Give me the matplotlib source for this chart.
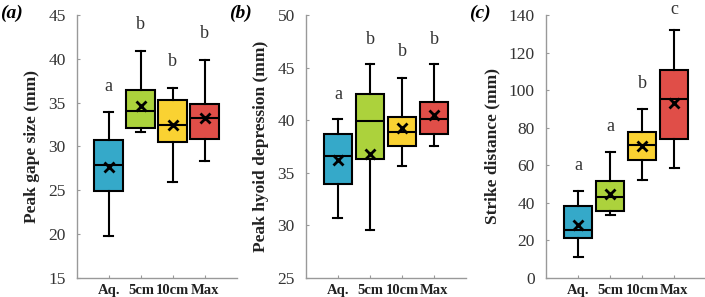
import matplotlib
matplotlib.use("Agg")
import matplotlib.pyplot as plt

plt.rcParams['font.family'] = ['Liberation Serif', 'DejaVu Serif']

# groups and colours
groups = ['Aq.', '5cm', '10cm', 'Max']
colors = ['#35a9c9', '#acd23c', '#fad232', '#e04e48']

# (a) peak gape size (mm)
gape_lo = [19.8, 31.6, 25.9, 28.4]
gape_q1 = [24.9, 32.1, 30.5, 30.8]
gape_med = [27.9, 34.0, 32.5, 33.2]
gape_q3 = [30.7, 36.4, 35.3, 34.9]
gape_hi = [33.9, 40.9, 36.7, 39.9]
gape_mean = [27.7, 34.6, 32.5, 33.3]
gape_letters = ['a', 'b', 'b', 'b']
gape_letter_y = [36.8, 43.9, 39.7, 42.9]

# (b) peak hyoid depression (mm)
hyoid_lo = [30.7, 29.6, 35.6, 37.5]
hyoid_q1 = [33.95, 36.3, 37.5, 38.7]
hyoid_med = [36.55, 39.9, 38.9, 40.1]
hyoid_q3 = [38.7, 42.45, 40.35, 41.7]
hyoid_hi = [40.1, 45.3, 44.0, 45.3]
hyoid_mean = [36.2, 36.8, 39.3, 40.5]
hyoid_letters = ['a', 'b', 'b', 'b']
hyoid_letter_y = [42.45, 47.7, 46.5, 47.7]

# (c) strike distance (mm)
strike_lo = [11.2, 33.7, 51.9, 58.5]
strike_q1 = [21.4, 35.5, 62.6, 74.2]
strike_med = [25.5, 43.3, 70.8, 95.4]
strike_q3 = [38.2, 51.7, 77.6, 110.6]
strike_hi = [46.4, 67.2, 89.7, 132.0]
strike_mean = [28.2, 44.9, 70.4, 93.3]
strike_letters = ['a', 'a', 'b', 'c']
strike_letter_y = [60.1, 80.8, 103.4, 143.0]

panels = [
    ('(a)', 'Peak gape size (mm)', (15, 45), range(15, 46, 5),
     gape_lo, gape_q1, gape_med, gape_q3, gape_hi, gape_mean, gape_letters, gape_letter_y),
    ('(b)', 'Peak hyoid depression (mm)', (25, 50), range(25, 51, 5),
     hyoid_lo, hyoid_q1, hyoid_med, hyoid_q3, hyoid_hi, hyoid_mean, hyoid_letters, hyoid_letter_y),
    ('(c)', 'Strike distance (mm)', (0, 140), range(0, 141, 20),
     strike_lo, strike_q1, strike_med, strike_q3, strike_hi, strike_mean, strike_letters, strike_letter_y),
]

fig = plt.figure(figsize=(7.05, 2.97), dpi=100)
lefts = [0.109, 0.434, 0.7745]

for left, (tag, ylabel, ylim, yticks, lo, q1, med, q3, hi, mean, letters, letter_y) in zip(lefts, panels):
    ax = fig.add_axes([left, 0.064, 0.227, 0.8855])
    stats = []
    for i in range(len(groups)):
        stats.append(dict(whislo=lo[i], q1=q1[i], med=med[i], q3=q3[i], whishi=hi[i],
                          mean=mean[i], fliers=[], label=groups[i]))
    pos = list(range(1, len(groups) + 1))
    bp = ax.bxp(stats, positions=pos, widths=0.9, patch_artist=True, showmeans=True,
                boxprops=dict(edgecolor='black', linewidth=1.5),
                medianprops=dict(color='black', linewidth=1.5),
                whiskerprops=dict(color='black', linewidth=1.5),
                capprops=dict(color='black', linewidth=1.5),
                meanprops=dict(marker='x', markeredgecolor='black', markersize=7, markeredgewidth=2))
    for patch, c in zip(bp['boxes'], colors):
        patch.set_facecolor(c)
    # short whisker caps
    for cap in bp['caps']:
        x0, x1 = cap.get_xdata()
        mid = (x0 + x1) / 2
        cap.set_xdata([mid - 0.14, mid + 0.14])

    for p, t, y in zip(pos, letters, letter_y):
        ax.text(p, y, t, ha='center', va='center', fontsize=13, color='#333333', clip_on=False)

    ax.set_xlim(0, 5)
    ax.set_ylim(*ylim)
    ax.set_yticks(list(yticks))
    ax.set_xticks(pos)
    ax.set_xticklabels(groups, fontsize=10.5, fontweight='bold', color='#222222')
    ax.tick_params(axis='y', direction='in', length=2, color='#999999', labelsize=12.5,
                   labelcolor='#333333', pad=8)
    ax.tick_params(axis='x', direction='in', length=2, color='#999999', pad=4)
    for s in ['top', 'right']:
        ax.spines[s].set_visible(False)
    for s in ['left', 'bottom']:
        ax.spines[s].set_color('#999999')
        ax.spines[s].set_linewidth(1.0)
    ax.set_ylabel(ylabel, fontsize=12.5, fontweight='bold', color='#222222', labelpad=6)
    fig.text(left - 0.109, 0.955, tag, fontsize=14, fontweight='bold', fontstyle='italic',
             ha='left', va='center')

fig.savefig('out.png', dpi=100)
